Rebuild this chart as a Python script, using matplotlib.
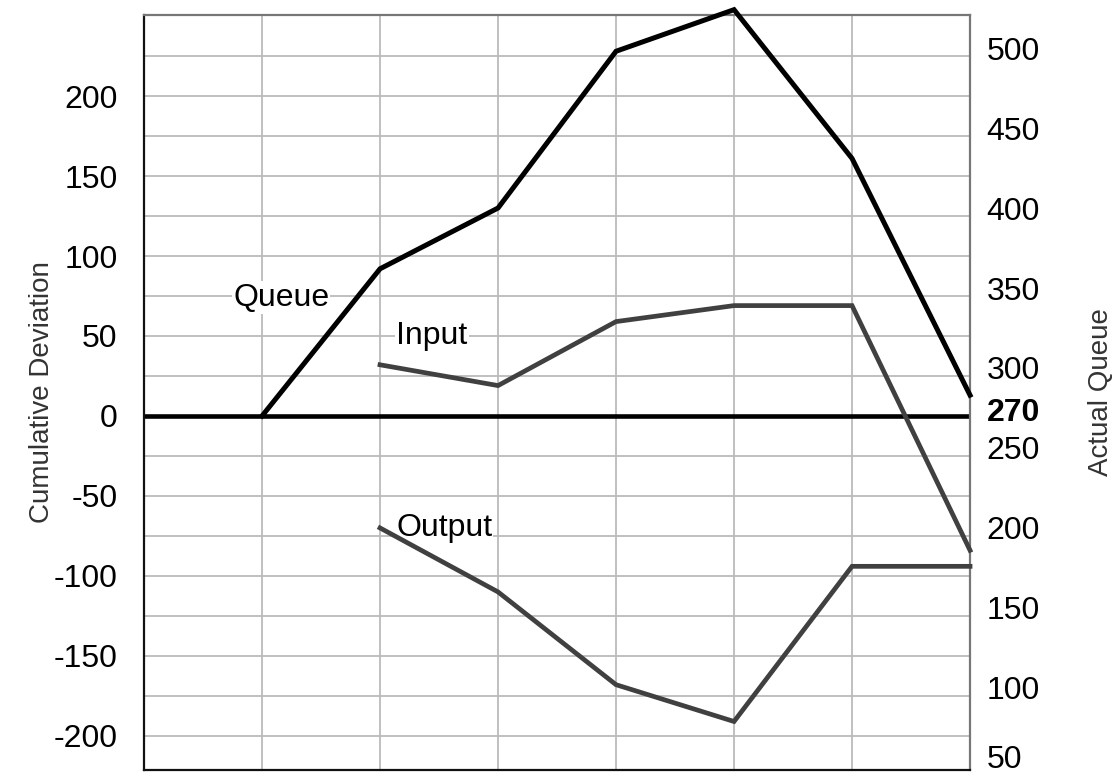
import numpy as np
import matplotlib.pyplot as plt
import matplotlib.transforms as mtransforms

plt.rcParams["font.family"] = ["Liberation Sans", "DejaVu Sans"]
plt.rcParams["axes.unicode_minus"] = False

# periods along the x axis
periods = [1, 2, 3, 4, 5, 6, 7]
# actual queue length (right axis)
queue = [270, 362, 400, 498, 524, 431, 283]
# cumulative deviations (left axis), starting at period 2
dev_periods = [2, 3, 4, 5, 6, 7]
input_dev = [32, 19, 59, 69, 69, -84]
output_dev = [-70, -110, -168, -191, -94, -94]

base_queue = 270
left_ticks = [-200, -150, -100, -50, 0, 50, 100, 150, 200]
right_ticks = [50, 100, 150, 200, 250, 270, 300, 350, 400, 450, 500]

FS = 23


def nudge(label, dy_pt):
    # shift a tick label vertically by dy_pt points
    label.set_transform(label.get_transform() + mtransforms.ScaledTranslation(0, dy_pt / 72, fig.dpi_scale_trans))


fig = plt.figure(figsize=(11.2, 7.75), dpi=100)
ax = fig.add_axes([0.1286, 0.0065, 0.7375, 0.974])
ax.set_xlim(0, 7)
ax.set_ylim(-221.3, 250.6)

# grid
for gx in range(1, 8):
    ax.axvline(gx, color="#bbbbbb", lw=1.3, zorder=0)
for gy in np.arange(-200, 250, 25):
    ax.axhline(gy, color="#bbbbbb", lw=1.3, zorder=0)

ax.axhline(0, color="black", lw=3.3, zorder=2)

ax.plot(dev_periods, input_dev, color="#404040", lw=3.4, zorder=3,
        solid_joinstyle="miter", clip_on=False)
ax.plot(dev_periods, output_dev, color="#404040", lw=3.4, zorder=3,
        solid_joinstyle="miter", clip_on=False)

ax.set_xticks([])
ax.set_yticks(left_ticks)
ax.tick_params(axis="y", length=0, labelsize=FS, pad=19)
ax.set_ylabel("Cumulative Deviation", fontsize=20, color="#333333")
ax.yaxis.set_label_coords(-0.108, 0.5)

for side in ["left", "bottom"]:
    ax.spines[side].set_color("#111111")
    ax.spines[side].set_linewidth(1.6)
for side in ["top", "right"]:
    ax.spines[side].set_color("#777777")
    ax.spines[side].set_linewidth(1.6)

label_box = dict(facecolor="white", edgecolor="none", pad=1)
ax.text(0.754, 74, "Queue", fontsize=FS, va="center", ha="left", zorder=1,
        bbox=label_box)
ax.text(2.136, 50, "Input", fontsize=FS, va="center", ha="left", zorder=1,
        bbox=label_box)
ax.text(2.136, -70, "Output", fontsize=FS, va="center", ha="left", zorder=1,
        bbox=label_box)

# actual queue on the right axis, offset so 270 lines up with zero deviation
ax2 = ax.twinx()
lo, hi = ax.get_ylim()
ax2.set_ylim(lo + base_queue, hi + base_queue)
ax2.plot(periods, queue, color="black", lw=3.6, solid_joinstyle="miter",
         clip_on=False)
ax2.set_yticks(right_ticks)
ax2.tick_params(axis="y", length=0, labelsize=FS, pad=12)
for lbl in ax2.get_yticklabels():
    if lbl.get_text() == "270":
        lbl.set_fontweight("bold")
        nudge(lbl, 5)
    if lbl.get_text() == "50":
        nudge(lbl, 8)
ax2.set_ylabel("Actual Queue", fontsize=20, color="#333333")
ax2.yaxis.set_label_coords(1.143, 0.5)
for side in ax2.spines:
    ax2.spines[side].set_visible(False)

fig.savefig("out.png", dpi=100)
